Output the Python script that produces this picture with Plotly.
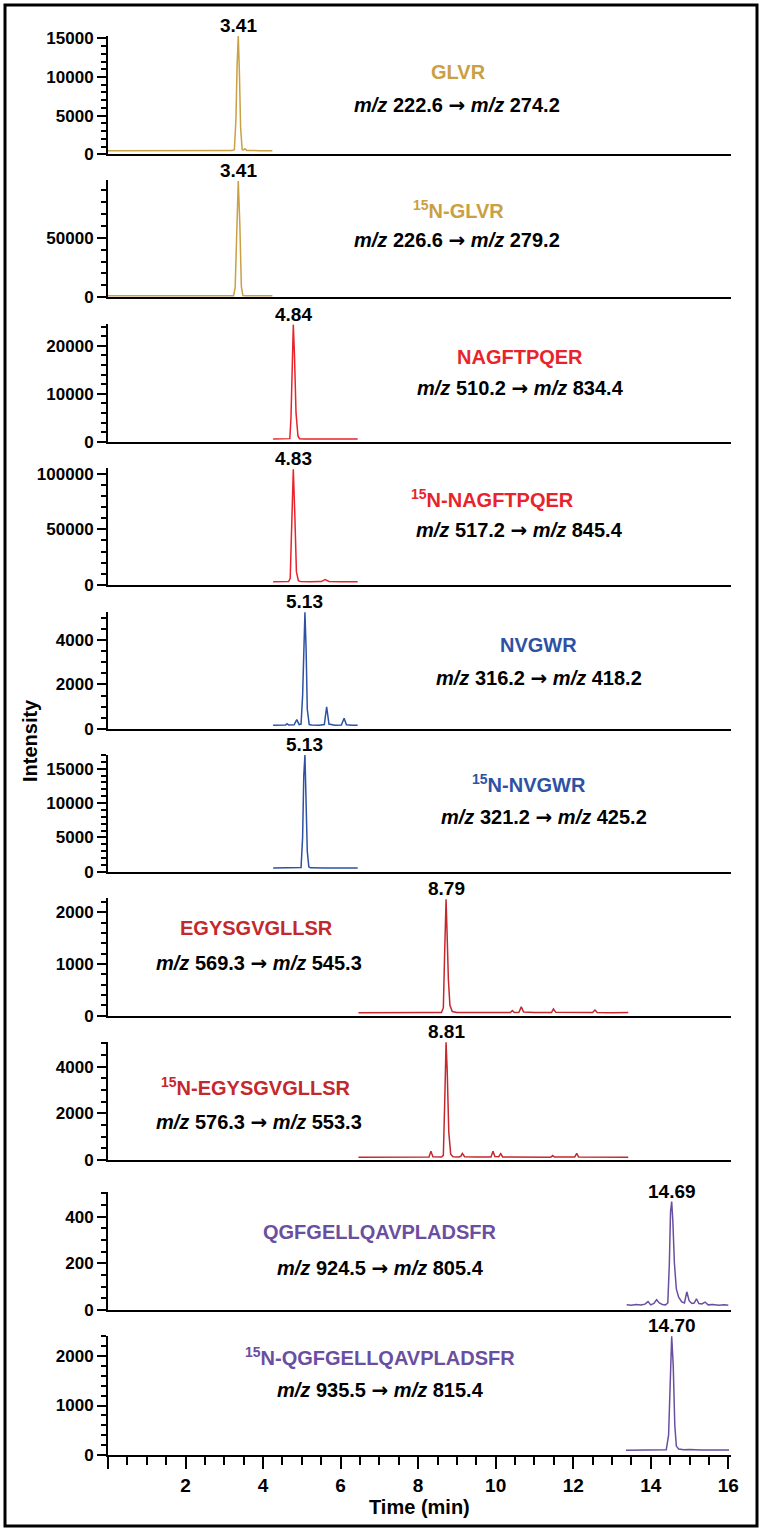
import plotly.graph_objects as go

# peptide transitions, top to bottom
peptides = ['GLVR', '<sup>15</sup>N-GLVR', 'NAGFTPQER', '<sup>15</sup>N-NAGFTPQER',
            'NVGWR', '<sup>15</sup>N-NVGWR', 'EGYSGVGLLSR', '<sup>15</sup>N-EGYSGVGLLSR',
            'QGFGELLQAVPLADSFR', '<sup>15</sup>N-QGFGELLQAVPLADSFR']
precursor_mz = ['222.6', '226.6', '510.2', '517.2', '316.2', '321.2', '569.3', '576.3', '924.5', '935.5']
product_mz = ['274.2', '279.2', '834.4', '845.4', '418.2', '425.2', '545.3', '553.3', '805.4', '815.4']
rt_labels = ['3.41', '3.41', '4.84', '4.83', '5.13', '5.13', '8.79', '8.81', '14.69', '14.70']
colors = ['#C9A043', '#C9A043', '#E8232B', '#E8232B', '#2D52A3', '#2D52A3',
          '#C4282D', '#C4282D', '#6A4EA0', '#6A4EA0']

# chromatograms (time in min, intensity in counts)
t_glvr = [0.0, 0.8, 1.6, 2.4, 3.2, 3.26, 3.30, 3.33, 3.36, 3.39, 3.42, 3.46, 3.50, 3.53, 3.58, 3.9, 4.24]
i_glvr = [470, 460, 480, 470, 480, 600, 4500, 11500, 15300, 10500, 3500, 600, 560, 720, 500, 470, 470]

t_glvr_n = [0.0, 1.0, 2.0, 3.0, 3.24, 3.28, 3.32, 3.36, 3.40, 3.44, 3.48, 3.55, 4.0, 4.24]
i_glvr_n = [1300, 1280, 1320, 1300, 1350, 8000, 60000, 97500, 62000, 9000, 1500, 1350, 1300, 1300]

t_nagf = [4.26, 4.45, 4.62, 4.69, 4.72, 4.75, 4.78, 4.81, 4.85, 4.90, 4.94, 5.05, 5.45, 5.6, 5.75, 6.1, 6.44]
i_nagf = [550, 560, 560, 640, 5000, 17000, 24400, 18000, 6000, 1200, 620, 560, 560, 640, 560, 550, 560]

t_nagf_n = [4.26, 4.5, 4.66, 4.70, 4.74, 4.78, 4.82, 4.86, 4.91, 4.96, 5.2, 5.5, 5.6, 5.7, 6.0, 6.44]
i_nagf_n = [3000, 3000, 3100, 6000, 50000, 104000, 62000, 12000, 3800, 3200, 3000, 3100, 4800, 3200, 3000, 3000]

t_nvgw = [4.26, 4.45, 4.58, 4.62, 4.66, 4.80, 4.87, 4.93, 4.98, 5.02, 5.05, 5.08, 5.11, 5.14, 5.19,
          5.25, 5.45, 5.58, 5.64, 5.70, 5.85, 6.02, 6.09, 6.15, 6.3, 6.44]
i_nvgw = [170, 170, 180, 240, 180, 190, 420, 200, 220, 1500, 4200, 5250, 3600, 900, 200,
          180, 170, 200, 1000, 220, 170, 180, 480, 190, 170, 170]

t_nvgw_n = [4.26, 4.6, 4.9, 4.98, 5.02, 5.05, 5.08, 5.11, 5.14, 5.18, 5.22, 5.6, 6.0, 6.44]
i_nvgw_n = [550, 540, 560, 600, 5000, 14000, 17000, 11000, 3000, 700, 560, 540, 530, 540]

t_egys = [6.46, 7.0, 7.6, 8.2, 8.6, 8.65, 8.68, 8.72, 8.75, 8.78, 8.82, 8.88, 9.0, 9.5, 10.0, 10.38,
          10.43, 10.48, 10.6, 10.66, 10.72, 11.0, 11.44, 11.49, 11.55, 12.0, 12.5, 12.56, 12.62, 13.0, 13.42]
i_egys = [55, 60, 55, 60, 60, 150, 1100, 2250, 1500, 700, 200, 80, 60, 55, 60, 60,
          100, 60, 65, 170, 70, 60, 60, 130, 65, 60, 60, 110, 60, 55, 60]

t_egys_n = [6.46, 7.0, 7.5, 8.0, 8.28, 8.33, 8.38, 8.6, 8.65, 8.69, 8.72, 8.75, 8.79, 8.84, 8.9, 9.05,
            9.1, 9.14, 9.2, 9.5, 9.88, 9.93, 9.98, 10.08, 10.13, 10.18, 10.5, 11.0, 11.42, 11.47,
            11.52, 12.04, 12.09, 12.14, 12.6, 13.0, 13.42]
i_egys_n = [120, 125, 120, 125, 130, 380, 140, 130, 200, 2800, 5050, 3800, 1200, 250, 140, 130,
            160, 280, 140, 130, 130, 380, 150, 140, 270, 130, 125, 120, 120, 190,
            125, 130, 280, 125, 120, 120, 120]

t_qgfg = [13.38, 13.5, 13.62, 13.75, 13.85, 13.93, 14.0, 14.08, 14.15, 14.22, 14.3, 14.38, 14.44, 14.48,
          14.51, 14.54, 14.57, 14.61, 14.66, 14.72, 14.8, 14.87, 14.93, 14.99, 15.06, 15.12, 15.18,
          15.24, 15.32, 15.4, 15.48, 15.6, 15.75, 15.9, 16.0]
i_qgfg = [22, 20, 24, 21, 25, 36, 22, 28, 44, 30, 24, 22, 30, 200,
          420, 464, 380, 200, 90, 55, 35, 30, 78, 40, 28, 30, 48,
          28, 26, 34, 22, 24, 20, 22, 20]

t_qgfg_n = [13.36, 13.6, 13.9, 14.2, 14.4, 14.46, 14.5, 14.54, 14.58, 14.62, 14.66, 14.72, 14.85, 15.0, 15.3, 15.6, 16.02]
i_qgfg_n = [95, 100, 95, 100, 105, 400, 1700, 2400, 1800, 600, 180, 120, 105, 110, 100, 95, 100]

chromatograms = [(t_glvr, i_glvr), (t_glvr_n, i_glvr_n), (t_nagf, i_nagf), (t_nagf_n, i_nagf_n),
                 (t_nvgw, i_nvgw), (t_nvgw_n, i_nvgw_n), (t_egys, i_egys), (t_egys_n, i_egys_n),
                 (t_qgfg, i_qgfg), (t_qgfg_n, i_qgfg_n)]

# y axis settings per panel
y_max = [15300, 98400, 24460, 105300, 5270, 17000, 2270, 5070, 504, 2410]
y_dtick = [5000, 50000, 10000, 50000, 2000, 5000, 1000, 2000, 200, 1000]
y_minor = [1000, 10000, 2000, 10000, 500, 1000, 200, 500, 50, 200]

# page geometry (pixels)
W, H = 766, 1533
L, R, T, B = 108, 35, 36, 78
pw, ph = W - L - R, H - T - B
panel_top = [36, 180, 324.3, 467.7, 611.7, 755, 898.3, 1041.7, 1192.3, 1335.7]
panel_base = [154.3, 297.3, 441.7, 585, 729, 871.7, 1015.7, 1160, 1310, 1455]
name_x = [458, 458, 520, 492, 538, 529, 256, 255, 380, 380]
mz_x = [457, 457, 520, 519, 539, 544, 259, 259, 380, 380]
name_y = [71.7, 210, 356.7, 498.3, 645, 783.3, 928.3, 1086.7, 1231.7, 1356.7]
mz_y = [105, 240, 388.3, 530, 678.3, 816.7, 963.3, 1121.7, 1268.3, 1390]


def px_x(px):
    return (px - L) / pw


def px_y(py):
    return (H - B - py) / ph


FONT = 'Liberation Sans, Arial, sans-serif'
ARROW = '<span style="font-family:DejaVu Sans">→</span>'

fig = go.Figure()
annotations = []

for k, (t, inten) in enumerate(chromatograms):
    n = k + 1
    sfx = '' if n == 1 else str(n)
    fig.add_trace(go.Scatter(x=t, y=inten, mode='lines', line=dict(color=colors[k], width=1.5),
                             xaxis='x' + sfx, yaxis='y' + sfx, showlegend=False, hoverinfo='skip'))

    last = (n == 10)
    fig.layout['xaxis' + sfx] = dict(
        domain=[0, 1], anchor='y' + sfx, range=[0, 16.07],
        showline=True, linecolor='black', linewidth=2, showgrid=False, zeroline=False,
        ticks='outside' if last else '', showticklabels=last,
        tickvals=list(range(0, 17, 2)), ticktext=[' '] + [str(v) for v in range(2, 17, 2)],
        ticklen=12, tickwidth=2, tickcolor='black',
        tickfont=dict(family=FONT, size=19, color='black', weight='bold'),
        minor=dict(ticks='outside' if last else '', dtick=0.5, tick0=0, ticklen=8,
                   tickwidth=2, tickcolor='black'),
    )
    if n > 1:
        fig.layout['xaxis' + sfx].matches = 'x'

    fig.layout['yaxis' + sfx] = dict(
        domain=[px_y(panel_base[k]), px_y(panel_top[k])], anchor='x' + sfx,
        range=[0, y_max[k]], tick0=0, dtick=y_dtick[k], tickformat='d',
        showline=True, linecolor='black', linewidth=2, showgrid=False, zeroline=False,
        ticks='outside', ticklen=9, tickwidth=2, tickcolor='black',
        tickfont=dict(family=FONT, size=17, color='black', weight='bold'),
        minor=dict(ticks='outside', dtick=y_minor[k], tick0=0, ticklen=5,
                   tickwidth=1.5, tickcolor='black'),
    )

    # retention time label above the apex
    apex = inten.index(max(inten))
    annotations.append(dict(x=t[apex], y=inten[apex], xref='x' + sfx, yref='y' + sfx,
                            text=rt_labels[k], showarrow=False, yanchor='bottom', yshift=-2,
                            font=dict(family=FONT, size=19, color='black', weight='bold')))
    # peptide name and transition
    annotations.append(dict(x=px_x(name_x[k]), y=px_y(name_y[k]), xref='paper', yref='paper',
                            text=peptides[k], showarrow=False, xanchor='center', yanchor='middle',
                            font=dict(family=FONT, size=20, color=colors[k], weight='bold')))
    annotations.append(dict(x=px_x(mz_x[k]), y=px_y(mz_y[k]), xref='paper', yref='paper',
                            text=f'<i>m/z</i> {precursor_mz[k]} {ARROW} <i>m/z</i> {product_mz[k]}',
                            showarrow=False, xanchor='center', yanchor='middle',
                            font=dict(family=FONT, size=20, color='black', weight='bold')))

annotations.append(dict(x=px_x(419), y=px_y(1507), xref='paper', yref='paper', text='Time (min)',
                        showarrow=False, xanchor='center', yanchor='middle',
                        font=dict(family=FONT, size=20, color='black', weight='bold')))
annotations.append(dict(x=px_x(30), y=px_y(740), xref='paper', yref='paper', text='Intensity',
                        textangle=-90, showarrow=False, xanchor='center', yanchor='middle',
                        font=dict(family=FONT, size=20, color='black', weight='bold')))

fig.update_layout(
    width=W, height=H,
    margin=dict(l=L, r=R, t=T, b=B, pad=0),
    paper_bgcolor='white', plot_bgcolor='white',
    annotations=annotations,
    shapes=[dict(type='rect', xref='paper', yref='paper',
                 x0=px_x(5), x1=px_x(757), y0=px_y(1526), y1=px_y(5),
                 line=dict(color='black', width=3))],
)

fig.write_html("out.html", config={'displayModeBar': False},
               post_script="document.body.style.margin='0';")
